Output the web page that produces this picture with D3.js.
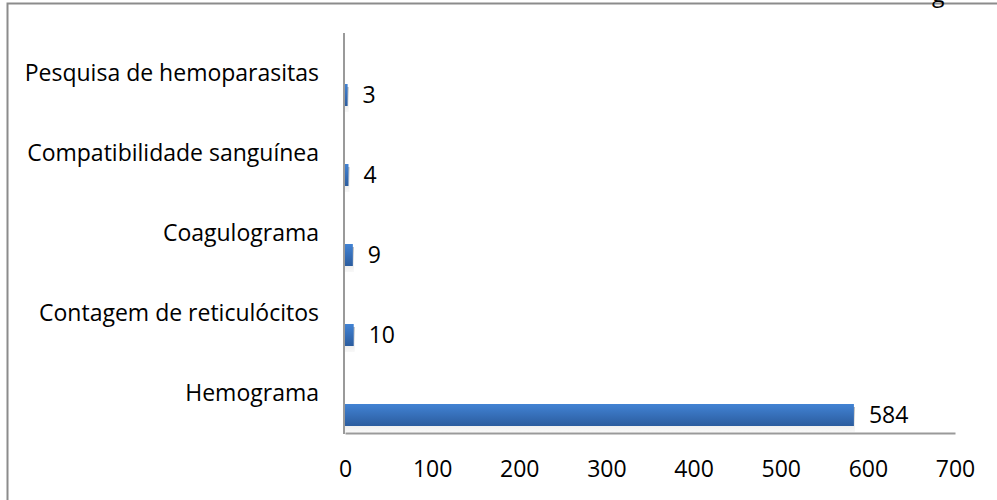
<!DOCTYPE html>
<html>
<head>
<meta charset="utf-8">
<script src="https://cdn.jsdelivr.net/npm/d3@7"></script>
<style>
  body { margin: 0; background: #fff; }
  text { font-family: "Open Sans", sans-serif; fill: #000; }
</style>
</head>
<body>
<svg id="chart" width="997" height="500"></svg>
<script>
// chart data
const categories = ['Hemograma', 'Contagem de reticulócitos', 'Coagulograma', 'Compatibilidade sanguínea', 'Pesquisa de hemoparasitas'];
const values = [584, 10, 9, 4, 3];
const xTicks = [0, 100, 200, 300, 400, 500, 600, 700];

const svg = d3.select('#chart');
const cs = {
  pallette: {
    barTop: '#4283d4',
    barBottom: '#2b5c9e',
    axis: '#9a9a9a',
    border: '#8c8c8c',
  },
  x: { left: 345, right: 955 },
  y: { top: 33, bottom: 433 },
  barHeight: 22,
  barOffset: 22,
  fontSize: 23,
};

// gradient for bars + shadow
const defs = svg.append('defs');
const grad = defs.append('linearGradient').attr('id', 'barGrad')
  .attr('x1', 0).attr('y1', 0).attr('x2', 0).attr('y2', 1);
grad.append('stop').attr('offset', '0%').attr('stop-color', cs.pallette.barTop);
grad.append('stop').attr('offset', '100%').attr('stop-color', cs.pallette.barBottom);
const shadow = defs.append('linearGradient').attr('id', 'shadowGrad')
  .attr('x1', 0).attr('y1', 0).attr('x2', 0).attr('y2', 1);
shadow.append('stop').attr('offset', '0%').attr('stop-color', '#a0a0a0').attr('stop-opacity', 0.8);
shadow.append('stop').attr('offset', '100%').attr('stop-color', '#dcdcdc').attr('stop-opacity', 0.2);

// outer border (chart area frame)
svg.append('rect')
  .attr('x', 7.5).attr('y', 3.5)
  .attr('width', 1100).attr('height', 600)
  .attr('fill', 'none')
  .attr('stroke', cs.pallette.border)
  .attr('stroke-width', 2);

// cut-off title letter at top
svg.append('text')
  .attr('x', 932).attr('y', 2)
  .attr('font-size', cs.fontSize)
  .text('g');

const x = d3.scaleLinear()
  .domain([0, 700])
  .range([cs.x.left, cs.x.right]);

const y = d3.scaleBand()
  .domain(categories)
  .range([cs.y.bottom, cs.y.top]);

const data = categories.map((c, i) => ({ cat: c, value: values[i] }));
const barY = d => y(d.cat) + y.bandwidth() / 2 + cs.barOffset - cs.barHeight / 2;

// shadows
svg.selectAll('rect.shadow')
  .data(data)
  .enter()
  .append('rect')
  .attr('class', 'shadow')
  .attr('x', x(0))
  .attr('y', d => barY(d) + 3)
  .attr('width', d => Math.max(3, x(d.value) - x(0) + 1))
  .attr('height', cs.barHeight + 3)
  .attr('fill', 'url(#shadowGrad)');

// bars
svg.selectAll('rect.bar')
  .data(data)
  .enter()
  .append('rect')
  .attr('class', 'bar')
  .attr('x', x(0))
  .attr('y', barY)
  .attr('width', d => Math.max(2, x(d.value) - x(0)))
  .attr('height', cs.barHeight)
  .attr('fill', 'url(#barGrad)');

// value labels
svg.selectAll('text.val')
  .data(data)
  .enter()
  .append('text')
  .attr('class', 'val')
  .attr('x', d => x(d.value) + 15)
  .attr('y', d => y(d.cat) + y.bandwidth() / 2 + cs.barOffset)
  .attr('dy', '0.36em')
  .attr('font-size', cs.fontSize)
  .text(d => d.value);

// category labels
svg.selectAll('text.cat')
  .data(data)
  .enter()
  .append('text')
  .attr('class', 'cat')
  .attr('x', 319)
  .attr('y', d => y(d.cat) + y.bandwidth() / 2)
  .attr('dy', '0.36em')
  .attr('text-anchor', 'end')
  .attr('font-size', cs.fontSize)
  .text(d => d.cat);

// axes
const xAxis = d3.axisBottom(x).tickValues(xTicks).tickSize(0).tickPadding(28);
const gx = svg.append('g')
  .attr('transform', `translate(0,${cs.y.bottom})`)
  .call(xAxis);
gx.select('.domain').attr('stroke', cs.pallette.axis).attr('stroke-width', 2);
gx.selectAll('text').attr('font-size', cs.fontSize).attr('font-family', '"Open Sans", sans-serif');

svg.append('line')
  .attr('x1', x(0) - 1).attr('x2', x(0) - 1)
  .attr('y1', cs.y.top).attr('y2', cs.y.bottom + 1)
  .attr('stroke', cs.pallette.axis)
  .attr('stroke-width', 2);
</script>
</body>
</html>
